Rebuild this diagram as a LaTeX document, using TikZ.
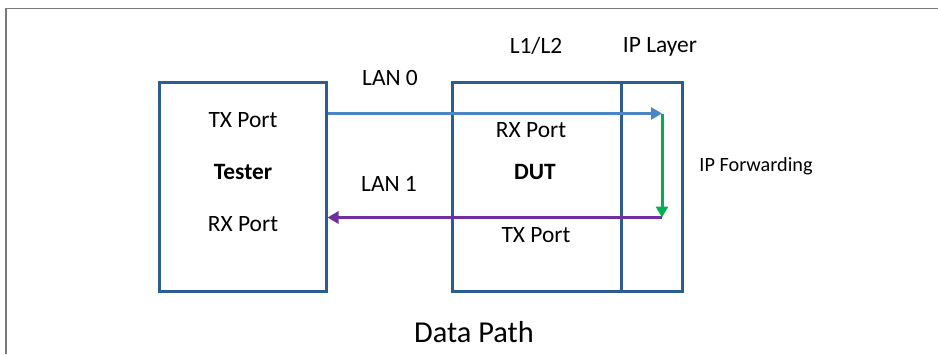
\documentclass[tikz,border=0pt]{standalone}
\usepackage{fontspec}
\setmainfont{Carlito}
\usetikzlibrary{arrows.meta}
\definecolor{boxblue}{HTML}{2C5D91}
\definecolor{lanblue}{HTML}{4A86C5}
\definecolor{fwdgreen}{HTML}{00B050}
\definecolor{retpurple}{HTML}{7030A0}
\definecolor{framegray}{HTML}{7A7A7A}
\tikzset{
  unitbox/.style={draw=boxblue, line width=3bp, minimum width=#1, inner sep=0pt, minimum height=209bp},
  lbl/.style={font=\fontsize{23.5}{28}\selectfont, inner sep=0pt},
  smalllbl/.style={font=\fontsize{20.3}{24}\selectfont, inner sep=0pt},
  titlelbl/.style={font=\fontsize{30.5}{36}\selectfont, inner sep=0pt},
  flow/.style={line width=3bp, -{Triangle[width=12bp,length=11bp]}},
}
\begin{document}
\begin{tikzpicture}[x=1bp,y=-1bp]
\useasboundingbox (0,0) rectangle (938,354);
% frame (top and left edges only)
\draw[framegray, line width=1.5bp] (938,8.5) -- (6,8.5) -- (6,354);
% boxes
\node[unitbox=167bp] (tester) at (242.5,187) {};
\node[unitbox=230bp] (dut) at (567.5,187) {};
\coordinate (divtop) at (621,82.5);
\coordinate (divbot) at (621,291.5);
\draw[boxblue, line width=3bp] (divtop) -- (divbot);
% arrow corner points
\coordinate (ipin) at (662,113.5);
\coordinate (ipout) at (662,217.5);
\coordinate (lanzero) at (tester.east |- ipin);
\coordinate (lanone) at (tester.east |- ipout);
\draw[flow, lanblue] (lanzero) -- (ipin);
\draw[flow, fwdgreen] (ipin) -- (ipout);
\draw[flow, retpurple] (ipout) -- (lanone);
% labels
\node[lbl] (l12) at (536,46) {L1/L2};
\node[lbl] (iplayer) at (660,47) {IP Layer};
\node[lbl] (lan0) at (390,78) {LAN 0};
\node[lbl] (lan1) at (389,184) {LAN 1};
\node[lbl] (ttx) at (243,120) {TX Port};
\node[lbl, font=\fontsize{23.5}{28}\selectfont\bfseries] (tname) at (243,172) {Tester};
\node[lbl] (trx) at (243,224) {RX Port};
\node[lbl] (drx) at (531,130) {RX Port};
\node[lbl, font=\fontsize{23.5}{28}\selectfont\bfseries] (dname) at (535,172) {DUT};
\node[lbl] (dtx) at (536,235) {TX Port};
\node[smalllbl] (ipfwd) at (756,166) {IP Forwarding};
\node[titlelbl] (title) at (474,332) {Data Path};
\end{tikzpicture}
\end{document}
